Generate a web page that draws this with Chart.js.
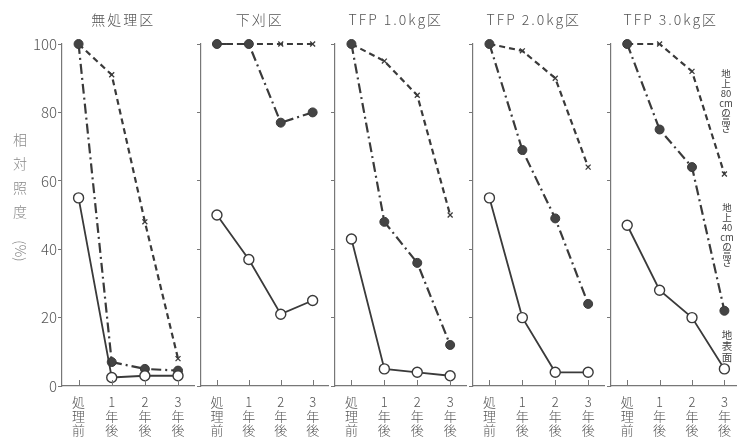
<!DOCTYPE html>
<html>
<head>
<meta charset="utf-8">
<script src="https://cdn.jsdelivr.net/npm/chart.js@4/dist/chart.umd.min.js"></script>
<style>
  html, body { margin: 0; padding: 0; background: #fff; overflow: hidden; }
  #wrap { position: relative; width: 737px; height: 440px; overflow: hidden; }
  #wrap canvas { position: absolute; top: 0; }
</style>
</head>
<body>
<div id="wrap"></div>
<script>
// data (relative illuminance, %)
const categories = [['処', '理', '前'], ['1', '年', '後'], ['2', '年', '後'], ['3', '年', '後']];
const panelTitles = ['無処理区', '下刈区', 'TFP 1.0kg区', 'TFP 2.0kg区', 'TFP 3.0kg区'];
const seriesNames = ['地上80cmの高さ', '地上40cmの高さ', '地表面'];
const above80 = [
    [100, 91, 48, 8],
    [100, 100, 100, 100],
    [100, 95, 85, 50],
    [100, 98, 90, 64],
    [100, 100, 92, 62]
];
const above40 = [
    [100, 7, 5, 4.5],
    [100, 100, 77, 80],
    [100, 48, 36, 12],
    [100, 69, 49, 24],
    [100, 75, 64, 22]
];
const ground = [
    [55, 2.5, 3, 3],
    [50, 37, 21, 25],
    [43, 5, 4, 3],
    [55, 20, 4, 4],
    [47, 28, 20, 5]
];
const yTicks = [0, 20, 40, 60, 80, 100];
const yTitle = ['相', '対', '照', '度'];

const ink = '#3a3a3a';
const axisGrey = '#777';
const font = "'Noto Sans CJK JP', 'Noto Sans', sans-serif";

// panel geometry
const axisX = [62, 201, 335, 473, 611];
const areaW = [139, 134, 138, 138, 136];

const wrap = document.getElementById('wrap');

const innerTicks = {
    id: 'innerTicks',
    afterDraw(chart) {
        const ctx = chart.ctx;
        const xs = chart.scales.x;
        const bottom = chart.chartArea.bottom;
        ctx.save();
        ctx.strokeStyle = axisGrey;
        ctx.lineWidth = 1;
        xs.ticks.forEach((t, k) => {
            const x = Math.round(xs.getPixelForTick(k)) + 0.5;
            ctx.beginPath();
            ctx.moveTo(x, bottom);
            ctx.lineTo(x, bottom - 6);
            ctx.stroke();
        });
        ctx.restore();
    }
};

// vertical (tategaki) series labels next to the last panel
function vLabel(ctx, parts, x, y0) {
    const offs = [0, 10, 20, 30, 39, 47, 55];
    parts.forEach((c, k) => ctx.fillText(c, x, y0 + offs[k]));
}

const panelText = {
    id: 'panelText',
    afterDraw(chart, args, opts) {
        const ctx = chart.ctx;
        const a = chart.chartArea;
        const dx = -opts.left; // page x -> canvas x
        ctx.save();
        ctx.fillStyle = '#555';
        ctx.textAlign = 'center';
        ctx.textBaseline = 'middle';
        ctx.font = '300 14px ' + font;
        ctx.letterSpacing = '2px';
        ctx.fillText(opts.title, (a.left + a.right) / 2 - 5, 20);
        ctx.letterSpacing = '0px';

        if (opts.first) {
            ctx.fillStyle = '#888';
            ctx.font = '300 14px ' + font;
            yTitle.forEach((c, k) => ctx.fillText(c, 20 + dx, 140 + k * 24));
            ctx.save();
            ctx.translate(20 + dx, 251);
            ctx.rotate(Math.PI / 2);
            ctx.fillText('(%)', 0, 0);
            ctx.restore();
        }
        if (opts.last) {
            ctx.fillStyle = '#444';
            ctx.font = '400 9.5px ' + font;
            vLabel(ctx, ['地', '上', '80', 'cm', 'の', '高', 'さ'], 726 + dx, 73);
            vLabel(ctx, ['地', '上', '40', 'cm', 'の', '高', 'さ'], 727 + dx, 207);
            ctx.font = '400 10.5px ' + font;
            ['地', '表', '面'].forEach((c, k) => ctx.fillText(c, 727 + dx, 335 + k * 11));
        }
        ctx.restore();
    }
};

panelTitles.forEach((title, i) => {
    const first = i === 0;
    const last = i === panelTitles.length - 1;
    const yW = first ? 62 : 8;
    const left = axisX[i] - yW;
    const canvas = document.createElement('canvas');
    canvas.width = yW + areaW[i];
    canvas.height = 440;
    canvas.style.left = left + 'px';
    wrap.appendChild(canvas);

    new Chart(canvas, {
        type: 'line',
        data: {
            labels: categories,
            datasets: [
                {
                    label: seriesNames[2],
                    data: ground[i],
                    borderColor: ink,
                    borderWidth: 1.8,
                    pointStyle: 'circle',
                    pointRadius: 5,
                    pointBorderWidth: 1.4,
                    pointBorderColor: ink,
                    pointBackgroundColor: '#fff',
                    clip: false
                },
                {
                    label: seriesNames[1],
                    data: above40[i],
                    borderColor: ink,
                    borderWidth: 2.2,
                    borderDash: [10, 4, 2, 4],
                    pointStyle: 'circle',
                    pointRadius: 4.5,
                    pointBorderWidth: 1,
                    pointBorderColor: ink,
                    pointBackgroundColor: '#444',
                    clip: false
                },
                {
                    label: seriesNames[0],
                    data: above80[i],
                    borderColor: ink,
                    borderWidth: 2.2,
                    borderDash: [6, 4],
                    pointStyle: 'crossRot',
                    pointRadius: 3.5,
                    pointBorderWidth: 1.3,
                    pointBorderColor: ink,
                    pointBackgroundColor: ink,
                    clip: false
                }
            ]
        },
        options: {
            responsive: false,
            animation: false,
            events: [],
            layout: { padding: { top: 44, right: 0, left: 0, bottom: 0 } },
            plugins: {
                legend: { display: false },
                tooltip: { enabled: false },
                panelText: { title: title, first: first, last: last, left: left }
            },
            scales: {
                x: {
                    type: 'category',
                    offset: true,
                    grid: { display: false, drawTicks: false },
                    border: { display: true, color: axisGrey, width: 1.2 },
                    ticks: {
                        color: '#555',
                        padding: 9,
                        maxRotation: 0,
                        autoSkip: false,
                        font: { family: font, size: 13, weight: '300', lineHeight: 1.08 }
                    },
                    afterFit: s => { s.height = 54; }
                },
                y: {
                    min: 0,
                    max: 100,
                    afterBuildTicks: s => { s.ticks = yTicks.map(v => ({ value: v })); },
                    grid: { drawOnChartArea: false, drawTicks: true, tickLength: 4, color: axisGrey },
                    border: { display: true, color: axisGrey, width: 1.2 },
                    ticks: {
                        color: '#555',
                        padding: 1,
                        font: { family: font, size: 15, weight: '300' },
                        callback: v => first ? v : ''
                    },
                    afterFit: s => { s.width = yW; }
                }
            }
        },
        plugins: [innerTicks, panelText]
    });
});
</script>
</body>
</html>
